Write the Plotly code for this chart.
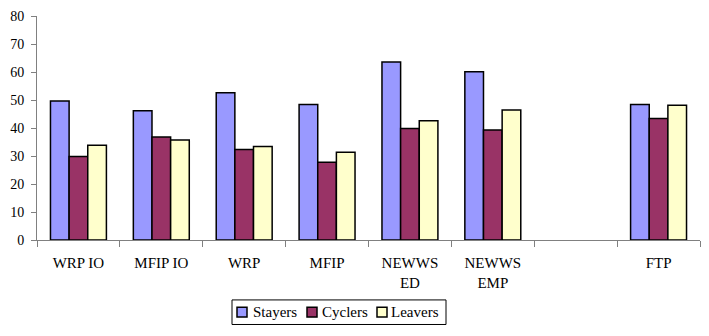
import plotly.graph_objects as go

# Programs compared; the blank slot separates the NEWWS group from FTP
programs = ["WRP IO", "MFIP IO", "WRP", "MFIP", "NEWWS<br>ED", "NEWWS<br>EMP", " ", "FTP"]

stayers = [49.6, 46.2, 52.6, 48.4, 63.6, 60.1, None, 48.4]
cyclers = [29.8, 36.8, 32.3, 27.8, 39.8, 39.3, None, 43.4]
leavers = [33.8, 35.7, 33.4, 31.3, 42.6, 46.4, None, 48.1]

series_names = ["Stayers", "Cyclers", "Leavers"]
series_values = [stayers, cyclers, leavers]
series_colors = ["#9999FF", "#993366", "#FFFFCC"]

font_family = "Liberation Serif, Times New Roman, serif"

W, H = 709, 336
M_L, M_R, M_T, M_B = 37, 9, 12, 96
plot_w = W - M_L - M_R
plot_h = H - M_T - M_B


def px_x(px):
    return (px - M_L) / plot_w


def px_y(py):
    return (H - M_B - py) / plot_h


fig = go.Figure()
for name, vals, color in zip(series_names, series_values, series_colors):
    fig.add_trace(go.Bar(
        name=name,
        x=programs,
        y=vals,
        marker=dict(color=color, line=dict(color="black", width=1.5)),
        showlegend=False,
    ))

# Boxed legend below the plot: swatch + label per series
shapes = [dict(
    type="rect", xref="paper", yref="paper",
    x0=px_x(232), x1=px_x(446), y0=px_y(326), y1=px_y(301),
    line=dict(color="black", width=1), fillcolor="white", layer="above",
)]
annotations = []
swatch_left = [237, 307, 377]
text_left = [251, 320, 389]
cy = 313.5
for name, color, sx, tx in zip(series_names, series_colors, swatch_left, text_left):
    shapes.append(dict(
        type="rect", xref="paper", yref="paper",
        x0=px_x(sx), x1=px_x(sx + 10), y0=px_y(cy + 5), y1=px_y(cy - 5),
        line=dict(color="black", width=1.5), fillcolor=color, layer="above",
    ))
    annotations.append(dict(
        text=name, xref="paper", yref="paper",
        x=px_x(tx), y=px_y(cy), xanchor="left", yanchor="middle",
        showarrow=False, font=dict(family=font_family, size=15, color="black"),
    ))

fig.update_layout(
    width=W,
    height=H,
    margin=dict(l=M_L, r=M_R, t=M_T, b=M_B),
    paper_bgcolor="white",
    plot_bgcolor="white",
    barmode="group",
    bargap=0.325,
    bargroupgap=0,
    font=dict(family=font_family, color="black", size=15),
    showlegend=False,
    shapes=shapes,
    annotations=annotations,
)

fig.update_xaxes(
    type="category",
    showline=True,
    linecolor="#808080",
    linewidth=1,
    ticks="outside",
    tickson="boundaries",
    ticklen=6,
    tickcolor="#808080",
    showgrid=False,
    tickfont=dict(family=font_family, size=15),
    ticklabelstandoff=9,
    fixedrange=True,
)

fig.update_yaxes(
    range=[0, 80],
    dtick=10,
    showline=True,
    linecolor="#808080",
    linewidth=1,
    ticks="outside",
    ticklen=5,
    tickcolor="#808080",
    showgrid=False,
    zeroline=False,
    tickfont=dict(family=font_family, size=14),
    ticklabelstandoff=4,
    fixedrange=True,
)

fig.write_html("out.html")
